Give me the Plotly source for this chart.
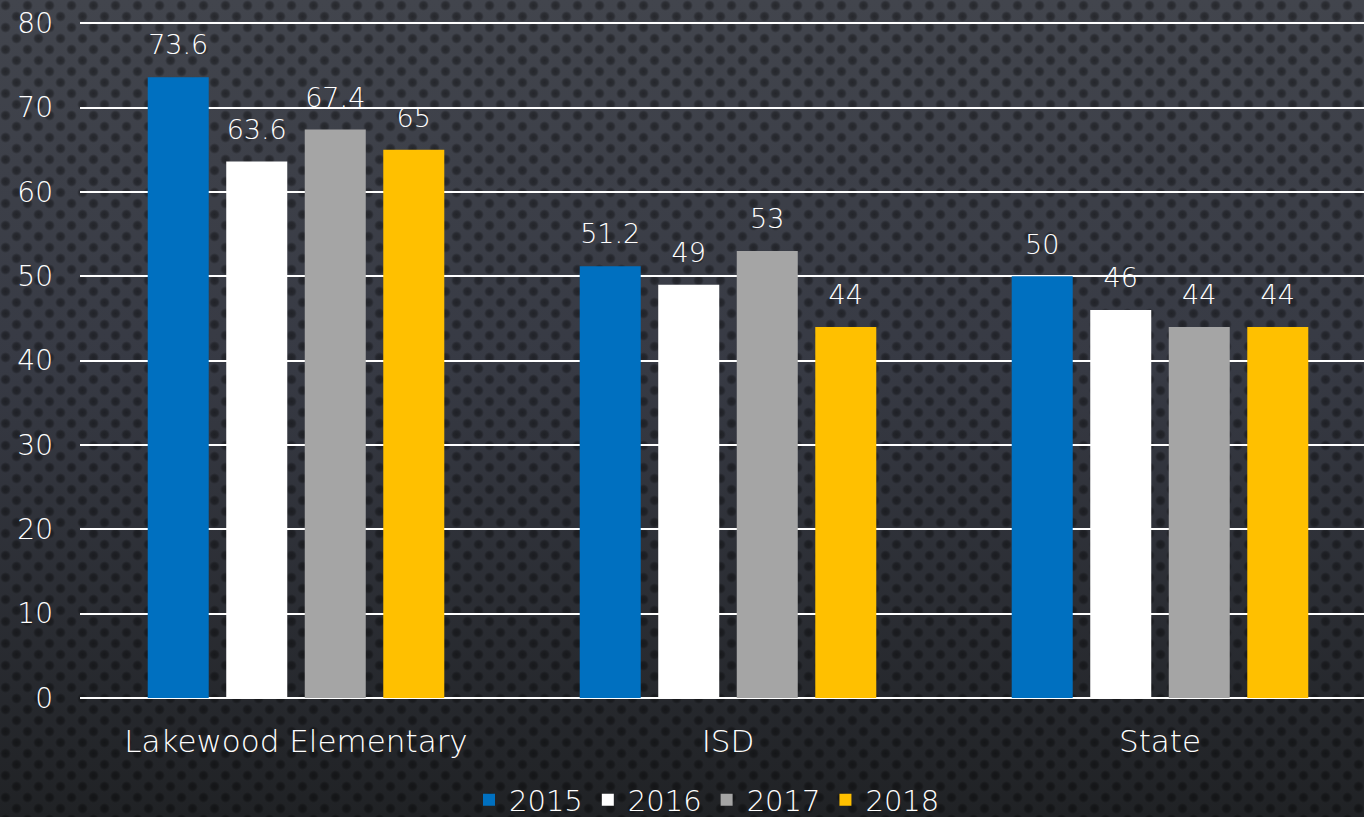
import base64
import plotly.graph_objects as go

categories = ["Lakewood Elementary", "ISD", "State"]
years = ["2015", "2016", "2017", "2018"]
values_2015 = [73.6, 51.2, 50]
values_2016 = [63.6, 49, 46]
values_2017 = [67.4, 53, 44]
values_2018 = [65, 44, 44]
series = [values_2015, values_2016, values_2017, values_2018]
colors = ["#0070C0", "#FFFFFF", "#A5A5A5", "#FFC000"]

W, H = 1364, 817
ML, MR, MT, MB = 80, 0, 22, 119
FONT = "'DejaVu Sans', sans-serif"

svg = f'''<svg xmlns="http://www.w3.org/2000/svg" width="{W}" height="{H}">
<defs>
<linearGradient id="g" x1="0" y1="0" x2="0" y2="1">
<stop offset="0" stop-color="#42454d"/>
<stop offset="0.45" stop-color="#373a44"/>
<stop offset="1" stop-color="#202225"/>
</linearGradient>
<radialGradient id="d">
<stop offset="0" stop-color="#000" stop-opacity="0.42"/>
<stop offset="0.6" stop-color="#000" stop-opacity="0.32"/>
<stop offset="1" stop-color="#000" stop-opacity="0"/>
</radialGradient>
<pattern id="p" width="22" height="22" patternUnits="userSpaceOnUse">
<circle cx="5.5" cy="5.5" r="5.5" fill="url(#d)"/>
<circle cx="16.5" cy="16.5" r="5.5" fill="url(#d)"/>
</pattern>
</defs>
<rect width="{W}" height="{H}" fill="url(#g)"/>
<rect width="{W}" height="{H}" fill="url(#p)"/>
</svg>'''
src = "data:image/svg+xml;base64," + base64.b64encode(svg.encode()).decode()

fig = go.Figure()
for name, vals, col in zip(years, series, colors):
    fig.add_trace(go.Bar(
        x=categories, y=vals, name=name,
        marker=dict(color=col, line=dict(width=0)),
        hoverinfo="x+y+name",
    ))
for name, vals in zip(years, series):
    fig.add_trace(go.Scatter(
        x=categories, y=vals, name=name, mode="markers+text",
        marker=dict(size=24, color="rgba(0,0,0,0)"),
        text=[f"{v:g}" for v in vals], textposition="top center",
        textfont=dict(color="white", size=27, family=FONT, weight=300),
        showlegend=False, hoverinfo="skip", cliponaxis=False,
    ))

pw = W - ML - MR
ph = H - MT - MB
fig.add_layout_image(dict(
    source=src, xref="paper", yref="paper",
    x=-ML / pw, y=1 + MT / ph, sizex=W / pw, sizey=H / ph,
    xanchor="left", yanchor="top", sizing="stretch", layer="below",
))

fig.update_layout(
    width=W, height=H,
    margin=dict(l=ML, r=MR, t=MT, b=MB, autoexpand=False),
    paper_bgcolor="#2a2c30", plot_bgcolor="rgba(0,0,0,0)",
    barmode="group", bargap=0.273, bargroupgap=0.223,
    scattermode="group", scattergap=0.273,
    font=dict(family=FONT, color="white", size=26, weight=300),
    showlegend=True,
    legend=dict(orientation="h", x=(707 - ML) / pw, xanchor="center",
                yref="container", y=17 / H, yanchor="middle",
                font=dict(size=29, color="white", family=FONT, weight=300),
                itemwidth=30, traceorder="normal", bgcolor="rgba(0,0,0,0)"),
    xaxis=dict(range=[-0.5, -0.5 + pw / 432], showgrid=False, showline=False,
               tickfont=dict(size=31, color="white", family=FONT, weight=300),
               ticks="", ticklabelstandoff=22, automargin=False),
    yaxis=dict(range=[0, 80.15], tickvals=[0, 10, 20, 30, 40, 50, 60, 70, 80],
               showgrid=True, gridcolor="white", gridwidth=2,
               zeroline=True, zerolinecolor="white", zerolinewidth=2,
               tickfont=dict(size=28, color="white", family=FONT, weight=300),
               ticks="", ticklabelstandoff=26, automargin=False),
)

fig.write_html("out.html", config={"displayModeBar": False},
               post_script="document.body.style.margin='0';document.body.style.overflow='hidden';")
